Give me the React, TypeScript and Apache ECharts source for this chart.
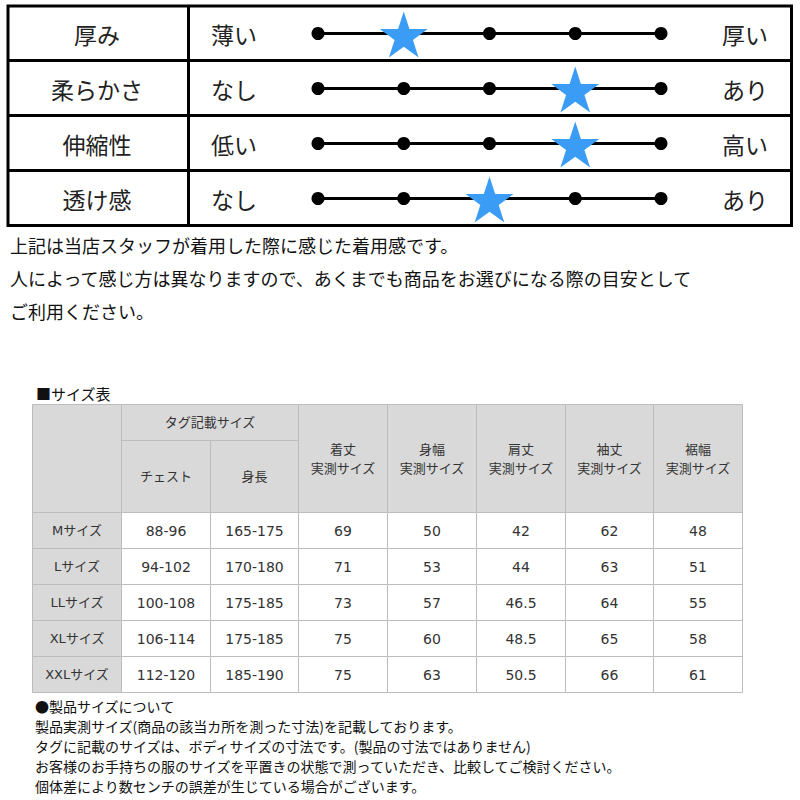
import React, { useEffect, useRef } from "react";
import * as echarts from "echarts";

// ---- rating block data ----
const ratingItems = ["厚み", "柔らかさ", "伸縮性", "透け感"];
const lowLabels = ["薄い", "なし", "低い", "なし"];
const highLabels = ["厚い", "あり", "高い", "あり"];
const ratingLevels = [1, 2, 3, 4, 5];
const ratingValues = [2, 4, 4, 3];

const noteLines = [
  "上記は当店スタッフが着用した際に感じた着用感です。",
  "人によって感じ方は異なりますので、あくまでも商品をお選びになる際の目安として",
  "ご利用ください。",
];

// ---- size table data ----
const tableTitle = "■サイズ表";
const tagHeader = "タグ記載サイズ";
const tagSubHeaders = ["チェスト", "身長"];
const measuredHeaders = ["着丈", "身幅", "肩丈", "袖丈", "裾幅"];
const measuredSuffix = "実測サイズ";
const sizeNames = ["Mサイズ", "Lサイズ", "LLサイズ", "XLサイズ", "XXLサイズ"];
const tagChest = ["88-96", "94-102", "100-108", "106-114", "112-120"];
const tagHeight = ["165-175", "170-180", "175-185", "175-185", "185-190"];
const lengthCm = [69, 71, 73, 75, 75];
const bodyWidthCm = [50, 53, 57, 60, 63];
const shoulderCm = [42, 44, 46.5, 48.5, 50.5];
const sleeveCm = [62, 63, 64, 65, 66];
const hemCm = [48, 51, 55, 58, 61];

const footLines = [
  "●製品サイズについて",
  "製品実測サイズ(商品の該当カ所を測った寸法)を記載しております。",
  "タグに記載のサイズは、ボディサイズの寸法です。(製品の寸法ではありません)",
  "お客様のお手持ちの服のサイズを平置きの状態で測っていただき、比較してご検討ください。",
  "個体差により数センチの誤差が生じている場合がございます。",
];

const JP = "'Noto Sans CJK JP', sans-serif";
const MIX = "'DejaVu Sans', 'Noto Sans CJK JP', sans-serif";

function starPath(): string {
  const pts: string[] = [];
  const R = 50;
  const r = R * 0.382;
  for (let k = 0; k < 10; k++) {
    const rad = k % 2 === 0 ? R : r;
    const a = -Math.PI / 2 + (k * Math.PI) / 5;
    pts.push(`${(50 + rad * Math.cos(a)).toFixed(2)},${(50 + rad * Math.sin(a)).toFixed(2)}`);
  }
  return "path://M" + pts.join("L") + "Z";
}

type Cell = { x0: number; y0: number; x1: number; y1: number; text: string; kind: number };

function buildCells(): Cell[] {
  const cells: Cell[] = [];
  cells.push({ x0: 0, y0: 0, x1: 1, y1: 3, text: "", kind: 0 });
  cells.push({ x0: 1, y0: 0, x1: 3, y1: 1, text: tagHeader, kind: 0 });
  tagSubHeaders.forEach((t, j) => cells.push({ x0: 1 + j, y0: 1, x1: 2 + j, y1: 3, text: t, kind: 0 }));
  measuredHeaders.forEach((t, j) =>
    cells.push({ x0: 3 + j, y0: 0, x1: 4 + j, y1: 3, text: t + "\n" + measuredSuffix, kind: 0 })
  );
  sizeNames.forEach((name, i) => {
    const row = [
      name,
      tagChest[i],
      tagHeight[i],
      String(lengthCm[i]),
      String(bodyWidthCm[i]),
      String(shoulderCm[i]),
      String(sleeveCm[i]),
      String(hemCm[i]),
    ];
    row.forEach((t, j) =>
      cells.push({ x0: j, y0: 3 + i, x1: j + 1, y1: 4 + i, text: t, kind: j === 0 ? 1 : 2 })
    );
  });
  return cells;
}

export default function App() {
  const ref = useRef<HTMLDivElement>(null);
  useEffect(() => {
    if (!ref.current) return;
    const chart = echarts.init(ref.current, undefined, { renderer: "svg" });
    const cells = buildCells();
    const star = starPath();

    const lineSeries = ratingItems.map((item) => ({
      type: "line",
      xAxisIndex: 0,
      yAxisIndex: 0,
      data: ratingLevels.map((l) => [l, item]),
      symbol: "circle",
      symbolSize: 13,
      lineStyle: { color: "#000", width: 3 },
      itemStyle: { color: "#000" },
      silent: true,
      z: 2,
    }));

    const frameColor = "#000";
    const graphic: any[] = [
      { type: "rect", shape: { x: 8, y: 6, width: 783.5, height: 219.5 }, style: { fill: "none", stroke: frameColor, lineWidth: 3 } },
      { type: "line", shape: { x1: 8, y1: 60.5, x2: 791.5, y2: 60.5 }, style: { stroke: frameColor, lineWidth: 3 } },
      { type: "line", shape: { x1: 8, y1: 115.5, x2: 791.5, y2: 115.5 }, style: { stroke: frameColor, lineWidth: 3 } },
      { type: "line", shape: { x1: 8, y1: 170.5, x2: 791.5, y2: 170.5 }, style: { stroke: frameColor, lineWidth: 3 } },
      { type: "line", shape: { x1: 188.5, y1: 6, x2: 188.5, y2: 225.5 }, style: { stroke: frameColor, lineWidth: 3 } },
    ];
    const noteY = [245, 278, 311];
    noteLines.forEach((t, i) =>
      graphic.push({
        type: "text",
        x: 10,
        y: noteY[i],
        style: { text: t, fontSize: 18, fontFamily: JP, fill: "#111", verticalAlign: "middle" },
      })
    );
    graphic.push({
      type: "text",
      x: 36,
      y: 393,
      style: { text: tableTitle, fontSize: 15, fontFamily: JP, fill: "#111", verticalAlign: "middle" },
    });
    footLines.forEach((t, i) =>
      graphic.push({
        type: "text",
        x: 35,
        y: 706 + i * 20,
        style: { text: t, fontSize: 14, fontFamily: JP, fill: "#111", verticalAlign: "middle" },
      })
    );

    const option: any = {
      animation: false,
      backgroundColor: "#fff",
      grid: [
        { left: 318, right: 139, top: 6, height: 220 },
        { left: 32, right: 58, top: 404, height: 288 },
      ],
      xAxis: [
        { type: "value", gridIndex: 0, min: 1, max: 5, show: false },
        { type: "value", gridIndex: 1, min: 0, max: 8, show: false },
      ],
      yAxis: [
        {
          type: "category",
          gridIndex: 0,
          data: ratingItems,
          inverse: true,
          position: "left",
          axisLine: { show: false },
          axisTick: { show: false },
          splitLine: { show: false },
          axisLabel: {
            align: "left",
            margin: 107,
            fontSize: 23,
            fontFamily: JP,
            color: "#222",
            formatter: (_v: string, idx: number) => lowLabels[idx],
          },
        },
        {
          type: "category",
          gridIndex: 0,
          data: ratingItems,
          inverse: true,
          position: "left",
          axisLine: { show: false },
          axisTick: { show: false },
          splitLine: { show: false },
          axisLabel: { align: "center", margin: 221, fontSize: 23, fontFamily: JP, color: "#222" },
        },
        {
          type: "category",
          gridIndex: 0,
          data: ratingItems,
          inverse: true,
          position: "right",
          axisLine: { show: false },
          axisTick: { show: false },
          splitLine: { show: false },
          axisLabel: {
            align: "left",
            margin: 61,
            fontSize: 23,
            fontFamily: JP,
            color: "#222",
            formatter: (_v: string, idx: number) => highLabels[idx],
          },
        },
        { type: "value", gridIndex: 1, min: 0, max: 8, inverse: true, show: false },
      ],
      graphic,
      series: [
        ...lineSeries,
        {
          type: "scatter",
          xAxisIndex: 0,
          yAxisIndex: 0,
          data: ratingValues.map((v, i) => [v, ratingItems[i]]),
          symbol: star,
          symbolSize: [48, 46],
          symbolOffset: [0, 1],
          itemStyle: { color: "#3a9cf4", opacity: 1 },
          silent: true,
          z: 5,
        },
        {
          type: "custom",
          xAxisIndex: 1,
          yAxisIndex: 3,
          silent: true,
          data: cells.map((c) => [c.x0, c.y0, c.x1, c.y1]),
          encode: { x: [0, 2], y: [1, 3] },
          renderItem: (params: any, api: any) => {
            const c = cells[params.dataIndex];
            const p0 = api.coord([c.x0, c.y0]);
            const p1 = api.coord([c.x1, c.y1]);
            const x0 = Math.round(p0[0]);
            const y0 = Math.round(p0[1]);
            const w = Math.round(p1[0]) - x0;
            const h = Math.round(p1[1]) - y0;
            const bg = c.kind === 2 ? "#ffffff" : "#d9d9d9";
            return {
              type: "group",
              children: [
                {
                  type: "rect",
                  shape: { x: x0 + 0.5, y: y0 + 0.5, width: w, height: h },
                  style: { fill: bg, stroke: "#bcbcbc", lineWidth: 1 },
                },
                {
                  type: "text",
                  x: x0 + w / 2 + 0.5,
                  y: y0 + h / 2 + 0.5,
                  style: {
                    text: c.text,
                    align: "center",
                    verticalAlign: "middle",
                    fontSize: c.kind === 2 ? 14 : 13,
                    fontFamily: MIX,
                    fill: "#333",
                    lineHeight: 19,
                  },
                },
              ],
            };
          },
        },
      ],
    };
    chart.setOption(option);
    return () => chart.dispose();
  }, []);
  return (
    <div
      ref={ref}
      style={{ position: "fixed", left: 0, top: 0, width: 800, height: 800, background: "#fff" }}
    />
  );
}
